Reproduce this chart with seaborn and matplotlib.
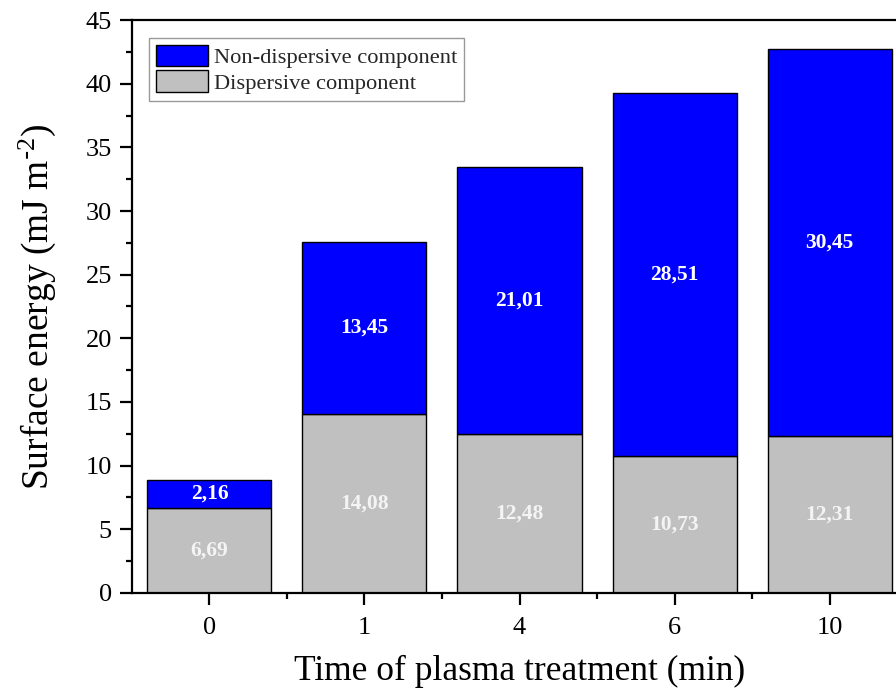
import matplotlib
matplotlib.use("Agg")
import matplotlib.pyplot as plt
from matplotlib.patches import Patch
from matplotlib.ticker import MultipleLocator, FixedLocator
import seaborn as sns
import pandas as pd

# Surface energy components per plasma treatment time
times = ["0", "1", "4", "6", "10"]
dispersive = [6.69, 14.08, 12.48, 10.73, 12.31]
non_dispersive = [2.16, 13.45, 21.01, 28.51, 30.45]

df = pd.DataFrame({"time": times, "disp": dispersive, "nondisp": non_dispersive})
df["total"] = df["disp"] + df["nondisp"]

sns.set_theme(style="ticks")
plt.rcParams["font.family"] = ["Liberation Serif", "DejaVu Serif"]
plt.rcParams["mathtext.default"] = "regular"

GRAY = "#c0c0c0"
BLUE = "#0000ff"

fig = plt.figure(figsize=(8.96, 6.90), dpi=100)
ax = fig.add_axes([0.1473, 0.1406, 0.865, 0.8304])

sns.barplot(data=df, x="time", y="disp", order=times, color=GRAY, width=0.8,
            edgecolor="black", linewidth=1.0, saturation=1, ax=ax)
sns.barplot(data=df, x="time", y="nondisp", order=times, color=BLUE, width=0.8,
            bottom=df["disp"].values, edgecolor="black", linewidth=1.0,
            saturation=1, ax=ax)

# value labels centred in each segment
for i, (d, n) in enumerate(zip(dispersive, non_dispersive)):
    ax.text(i, d / 2, f"{d:.2f}".replace(".", ","), ha="center", va="center",
            color="#f4f4f4", fontsize=15.5, fontweight="bold")
    ax.text(i, d + n / 2, f"{n:.2f}".replace(".", ","), ha="center", va="center",
            color="white", fontsize=15.5, fontweight="bold")

ax.set_xlim(-0.5, len(times) - 0.5)
ax.set_ylim(0, 45)
ax.yaxis.set_major_locator(MultipleLocator(5))
ax.yaxis.set_minor_locator(MultipleLocator(2.5))
ax.xaxis.set_minor_locator(FixedLocator([i + 0.5 for i in range(len(times) - 1)]))

ax.tick_params(axis="both", which="major", direction="out", length=8.5, width=1.6,
               labelsize=19, color="black", labelcolor="black", pad=6)
ax.tick_params(axis="x", which="major", pad=9)
ax.tick_params(axis="both", which="minor", direction="out", length=4.5, width=1.6,
               color="black")

for side in ["left", "bottom", "top", "right"]:
    ax.spines[side].set_visible(True)
    ax.spines[side].set_linewidth(1.6)
    ax.spines[side].set_color("black")

ax.set_xlabel("Time of plasma treatment (min)", fontsize=25.5, labelpad=11, color="black")
ax.set_ylabel(r"Surface energy (mJ m$^{\text{-}2}$)", fontsize=27, labelpad=20,
              color="black")

handles = [Patch(facecolor=BLUE, edgecolor="black", linewidth=1.0),
           Patch(facecolor=GRAY, edgecolor="black", linewidth=1.0)]
leg = ax.legend(handles, ["Non-dispersive component", "Dispersive component"],
                loc="upper left", bbox_to_anchor=(0.022, 0.9686), fontsize=16.2,
                frameon=True, fancybox=False, edgecolor="#808080",
                handlelength=2.3, handleheight=1.1, handletextpad=0.28,
                borderpad=0.3, labelspacing=0.1, borderaxespad=0)
leg.get_frame().set_linewidth(1.0)

fig.savefig("out.png", dpi=100)
